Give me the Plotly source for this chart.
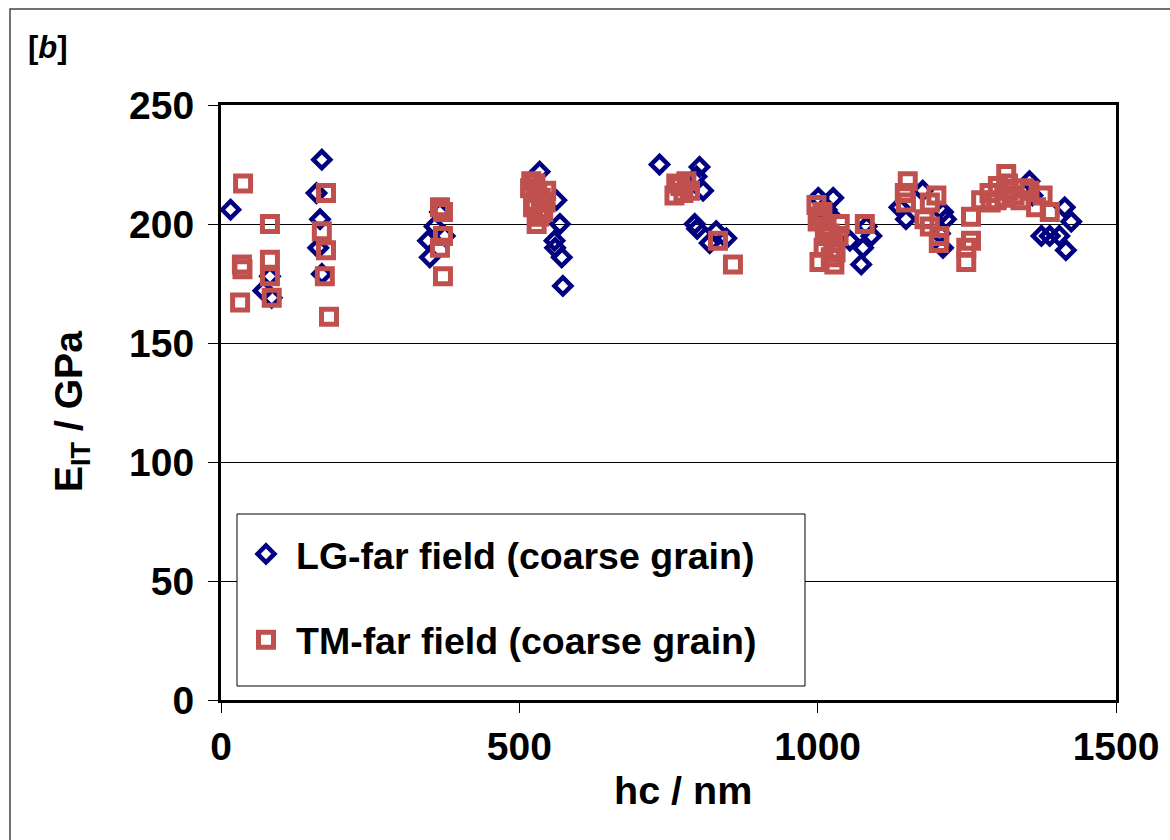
import plotly.graph_objects as go

# LG-far field (coarse grain) -- blue diamonds
lg_hc = [16, 82, 71, 85, 169, 160, 166, 163, 169,
         347, 350, 375, 367, 358,
         534, 562, 568, 559, 560, 571, 573,
         735, 802, 797, 808, 794, 798, 819, 830, 847,
         1001, 1008, 1026, 1015, 1020, 1054, 1076, 1073, 1090, 1082,
         1137, 1148, 1176, 1210, 1215, 1210, 1205,
         1355, 1375, 1389, 1414, 1425, 1405, 1416, 1360]
lg_e = [206, 178, 172, 169, 227, 213, 202, 190, 179,
        193, 186, 195, 205, 199,
        222, 210, 200, 193, 190, 186, 174,
        225, 224, 220, 214, 200, 198, 192, 197, 194,
        211, 206, 211, 206, 204, 193, 190, 183, 195, 199,
        207, 202, 214, 205, 202, 190, 196,
        218, 195, 195, 207, 201, 195, 189, 212]

# TM-far field (coarse grain) -- red squares
tm_hc = [37, 35, 36, 32, 82, 82, 82, 85,
         176, 169, 176, 174, 181,
         367, 372, 372, 367, 372,
         520, 527, 530, 536, 523, 540, 529, 518, 545, 533, 544, 526,
         763, 760, 786, 770, 775, 780, 833, 858,
         998, 1003, 1028, 1020, 1026, 1010, 1005, 1037, 1015, 1008, 1030, 1012, 1035, 1022, 1000, 1079,
         1151, 1146, 1148, 1199, 1188, 1179, 1188, 1204, 1203,
         1257, 1249, 1249, 1257, 1274, 1288, 1302, 1316, 1319, 1313, 1300, 1320, 1330, 1345, 1290,
         1355, 1377, 1366, 1389, 1340]
tm_e = [217, 183, 181, 167, 200, 185, 178, 169,
        213, 197, 189, 178, 161,
        207, 205, 195, 190, 178,
        218, 217, 213, 211, 207, 205, 200, 215, 214, 203, 209, 209,
        217, 212, 214, 216, 213, 218, 193, 183,
        208, 184, 183, 196, 192, 190, 203, 200, 199, 205, 188, 195, 195, 186, 201, 200,
        218, 213, 209, 212, 209, 202, 199, 195, 192,
        193, 190, 184, 203, 210, 213, 216, 221, 217, 211, 210, 214, 212, 215, 209,
        214, 212, 207, 205, 210]

series_names = ["LG-far field (coarse grain)", "TM-far field (coarse grain)"]
x_ticks = [0, 500, 1000, 1500]
y_ticks = [0, 50, 100, 150, 200, 250]

FONT = "Arial, Liberation Sans, sans-serif"
BLUE = "#000080"
RED = "#C0504D"

fig = go.Figure()
fig.add_trace(go.Scatter(
    x=lg_hc, y=lg_e, mode="markers", name=series_names[0], legendgroup="a",
    marker=dict(symbol="diamond-open", size=13, color=BLUE, line=dict(width=4.5, color=BLUE)),
))
fig.add_trace(go.Scatter(
    x=tm_hc, y=tm_e, mode="markers", name=series_names[1], legendgroup="b",
    marker=dict(symbol="square-open", size=15, color=RED, line=dict(width=5, color=RED)),
))

W, H = 1170, 840
L, R, T, B = 221, 54, 105, 140
pw, ph = W - L - R, H - T - B

def px(x):
    return (x - L) / pw

def py(y):
    return (H - B - y) / ph

fig.update_layout(
    width=W, height=H,
    margin=dict(l=L, r=R, t=T, b=B),
    paper_bgcolor="white", plot_bgcolor="white",
    font=dict(family=FONT, color="black"),
    showlegend=True,
    legend=dict(
        x=px(236), y=py(523), xanchor="left", yanchor="top",
        bgcolor="rgba(0,0,0,0)", borderwidth=0,
        font=dict(family=FONT, size=37.5, color="black", weight="bold"),
        tracegroupgap=34, itemsizing="trace", itemwidth=50,
    ),
    xaxis=dict(
        range=[0, 1500], tickvals=x_ticks, ticktext=[str(v) for v in x_ticks],
        showgrid=False, zeroline=False,
        showline=True, linecolor="black", linewidth=3, mirror=True,
        ticks="outside", ticklen=10, tickwidth=1, tickcolor="black",
        tickfont=dict(family=FONT, size=39, color="black", weight="bold"),
    ),
    yaxis=dict(
        range=[0, 250], tickvals=y_ticks, ticktext=[str(v) for v in y_ticks],
        showgrid=True, gridcolor="black", gridwidth=1, zeroline=False,
        showline=True, linecolor="black", linewidth=3, mirror=True,
        ticks="outside", ticklen=10, tickwidth=1, tickcolor="black",
        ticklabelstandoff=6,
        tickfont=dict(family=FONT, size=39, color="black", weight="bold"),
    ),
    shapes=[
        # outer frame
        dict(type="rect", xref="paper", yref="paper",
             x0=px(10), x1=px(1175), y0=py(845), y1=py(9),
             line=dict(color="#444444", width=1.5), fillcolor="rgba(0,0,0,0)", layer="below"),
        # legend box
        dict(type="rect", xref="paper", yref="paper",
             x0=px(237), x1=px(805), y0=py(686), y1=py(514),
             line=dict(color="black", width=1), fillcolor="white", layer="above"),
    ],
    annotations=[
        dict(text="<b>[<i>b</i>]</b>", xref="paper", yref="paper",
             x=px(26), y=py(48), xanchor="left", yanchor="middle", showarrow=False,
             font=dict(family=FONT, size=31, color="black")),
        dict(text="<b>hc / nm</b>", xref="paper", yref="paper",
             x=px(683), y=py(790), xanchor="center", yanchor="middle", showarrow=False,
             font=dict(family=FONT, size=39.5, color="black")),
        dict(text="<b>E<sub>IT</sub> / GPa</b>", xref="paper", yref="paper",
             x=px(72), y=py(412), xanchor="center", yanchor="middle", showarrow=False,
             textangle=-90, font=dict(family=FONT, size=39, color="black")),
    ],
)

fig.write_html("out.html")
